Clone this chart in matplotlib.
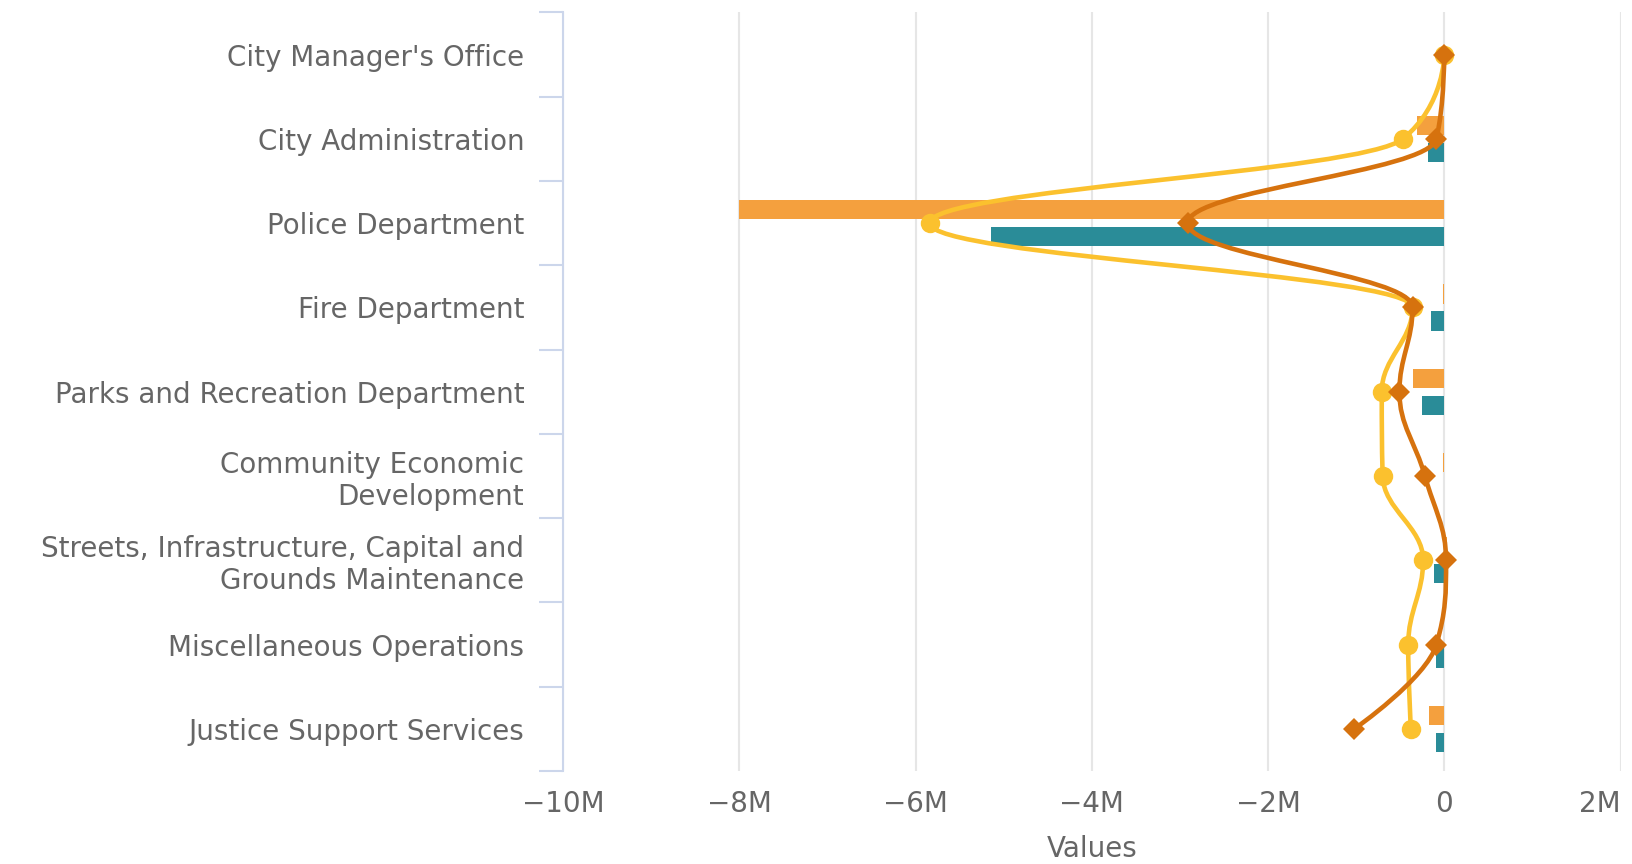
import numpy as np
import matplotlib
matplotlib.use("Agg")
import matplotlib.pyplot as plt
from matplotlib.path import Path
from matplotlib.patches import PathPatch


departments = ["City Manager's Office", "City Administration", "Police Department",
               "Fire Department", "Parks and Recreation Department",
               "Community Economic\nDevelopment",
               "Streets, Infrastructure, Capital and\nGrounds Maintenance",
               "Miscellaneous Operations", "Justice Support Services"]

# values in millions
bar_orange = [0.0, -0.31, -8.0, -0.02, -0.36, -0.02, 0.03, 0.0, -0.17]
bar_teal   = [0.0, -0.19, -5.14, -0.15, -0.25, 0.0, -0.12, -0.09, -0.09]
line_yellow = [0.0, -0.47, -5.84, -0.36, -0.71, -0.70, -0.24, -0.41, -0.38]
line_dark   = [0.0, -0.09, -2.91, -0.36, -0.51, -0.22, 0.02, -0.09, -1.02]

x_ticks = [-10, -8, -6, -4, -2, 0, 2]
x_labels = ["\u221210M", "\u22128M", "\u22126M", "\u22124M", "\u22122M", "0", "2M"]

C_ORANGE = "#f4a03e"
C_TEAL   = "#2a8c98"
C_YELLOW = "#fbc12e"
C_DARK   = "#d6720e"
GRAY     = "#666666"
FS = 20


def spline_path(px, py, smoothing=1.5):
    # highcharts-style spline; px = category position, py = value
    n = len(px)
    denom = smoothing + 1
    lcx, lcy = list(px), list(py)
    rcx, rcy = list(px), list(py)
    for i in range(1, n - 1):
        x, y = px[i], py[i]
        lx, ly, nx, ny = px[i - 1], py[i - 1], px[i + 1], py[i + 1]
        lcx_ = (smoothing * x + lx) / denom
        lcy_ = (smoothing * y + ly) / denom
        rcx_ = (smoothing * x + nx) / denom
        rcy_ = (smoothing * y + ny) / denom
        corr = 0
        if rcx_ != lcx_:
            corr = (rcy_ - lcy_) * (rcx_ - x) / (rcx_ - lcx_) + y - rcy_
        lcy_ += corr
        rcy_ += corr
        if lcy_ > ly and lcy_ > y:
            lcy_ = max(ly, y); rcy_ = 2 * y - lcy_
        elif lcy_ < ly and lcy_ < y:
            lcy_ = min(ly, y); rcy_ = 2 * y - lcy_
        if rcy_ > ny and rcy_ > y:
            rcy_ = max(ny, y); lcy_ = 2 * y - rcy_
        elif rcy_ < ny and rcy_ < y:
            rcy_ = min(ny, y); lcy_ = 2 * y - rcy_
        lcx[i], lcy[i], rcx[i], rcy[i] = lcx_, lcy_, rcx_, rcy_
    verts = [(py[0], px[0])]
    codes = [Path.MOVETO]
    for i in range(1, n):
        verts += [(rcy[i - 1], rcx[i - 1]), (lcy[i], lcx[i]), (py[i], px[i])]
        codes += [Path.CURVE4] * 3
    return Path(verts, codes)


fig = plt.figure(figsize=(16.32, 8.64), dpi=100)
ax = fig.add_axes([0.345, 0.1076, 0.648, 0.878])

idx = np.arange(len(departments))

ax.barh(idx - 0.16, bar_orange, height=0.23, color=C_ORANGE, zorder=2)
ax.barh(idx + 0.16, bar_teal, height=0.23, color=C_TEAL, zorder=2)

for vals, col, mk, ms, z in [(line_yellow, C_YELLOW, "o", 14, 3),
                             (line_dark, C_DARK, "D", 11, 4)]:
    path = spline_path(list(idx.astype(float)), vals)
    ax.add_patch(PathPatch(path, facecolor="none", edgecolor=col, lw=3.3, zorder=z,
                           capstyle="round", joinstyle="round"))
    ax.plot(vals, idx, linestyle="none", marker=mk, markersize=ms, color=col,
            markeredgewidth=0, zorder=z)

ax.set_xlim(-10, 2)
ax.set_ylim(len(departments) - 0.5, -0.5)
ax.set_xticks(x_ticks)
ax.set_xticklabels(x_labels)
ax.get_xticklabels()[-1].set_horizontalalignment("right")
ax.set_yticks(idx)
ax.set_yticklabels(departments, linespacing=1.17)
ax.set_yticks(np.arange(len(departments) + 1) - 0.5, minor=True)

ax.grid(axis="x", color="#e6e6e6", lw=1.5, zorder=0)
ax.set_axisbelow(True)
for s in ["top", "right", "bottom"]:
    ax.spines[s].set_visible(False)
ax.spines["left"].set_color("#ccd6eb")
ax.spines["left"].set_linewidth(1.5)

ax.tick_params(axis="y", which="major", length=0, pad=28, labelsize=FS, labelcolor=GRAY)
ax.tick_params(axis="y", which="minor", length=17, width=1.5, color="#ccd6eb")
ax.tick_params(axis="x", length=0, pad=14, labelsize=FS, labelcolor=GRAY)
ax.set_xlabel("Values", fontsize=FS, color=GRAY, labelpad=12)

fig.savefig("out.png", dpi=100)
